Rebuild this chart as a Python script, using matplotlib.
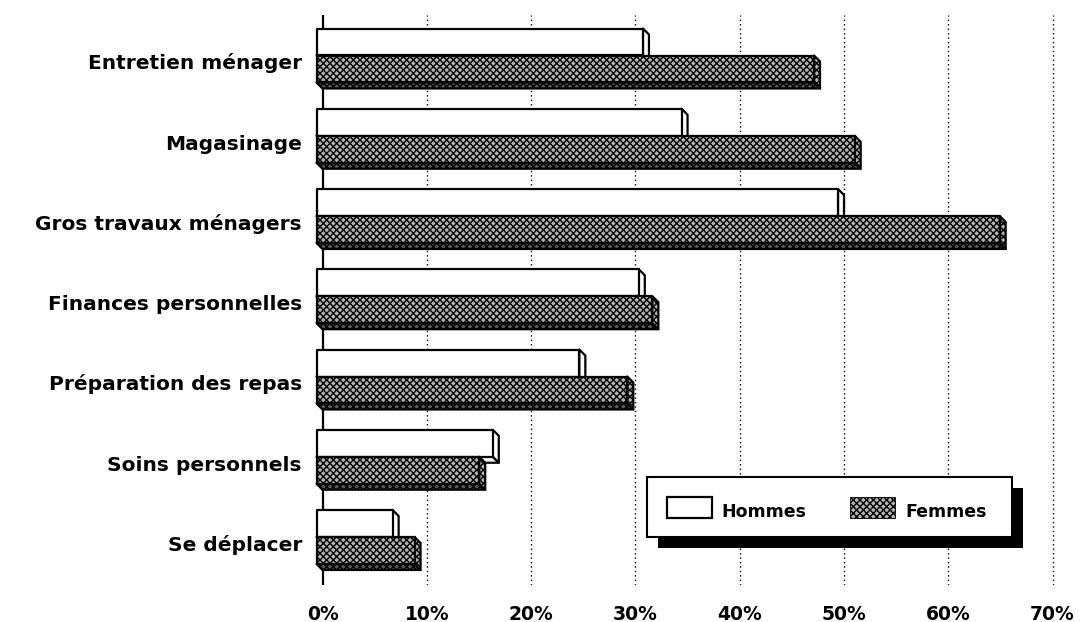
import matplotlib
matplotlib.use("Agg")
import matplotlib.pyplot as plt
from matplotlib.patches import Polygon, Rectangle

# Survey data (% of respondents)
categories = ["Entretien ménager", "Magasinage", "Gros travaux ménagers",
              "Finances personnelles", "Préparation des repas",
              "Soins personnels", "Se déplacer"]
hommes = [31.3, 35.0, 50.0, 30.9, 25.2, 16.9, 7.3]
femmes = [47.7, 51.6, 65.5, 32.2, 29.8, 15.6, 9.4]
series_names = ["Hommes", "Femmes"]
xticks = [0, 10, 20, 30, 40, 50, 60, 70]
xtick_labels = ["0%", "10%", "20%", "30%", "40%", "50%", "60%", "70%"]

plt.rcParams["font.family"] = ["DejaVu Sans"]
plt.rcParams["font.weight"] = "bold"
plt.rcParams["hatch.linewidth"] = 1.0
plt.rcParams["hatch.color"] = "black"

W, H = 1081, 622
fig = plt.figure(figsize=(W / 100, H / 100), dpi=100)

# layout in pixels: 0% sits at x=322.5, 10 points = 104.3 px
PX_X0, PX_PER_PCT = 322.5, 10.43
PX_Y0, PX_PER_CAT = 55.5, 80.25
XLIM = (-1.2, 71)
YLIM = (6.6, -0.5)
left = PX_X0 + XLIM[0] * PX_PER_PCT
right = PX_X0 + XLIM[1] * PX_PER_PCT
top = PX_Y0 + YLIM[1] * PX_PER_CAT
bottom = PX_Y0 + YLIM[0] * PX_PER_CAT
ax = fig.add_axes([left / W, 1 - bottom / H, (right - left) / W, (bottom - top) / H])
ax.set_xlim(*XLIM)
ax.set_ylim(*YLIM)
for s in ax.spines.values():
    s.set_visible(False)

# 3D depth of the bars (6 px right and down)
DX = 6 / PX_PER_PCT
DY = 6 / PX_PER_CAT
BAR_H = 0.336
LW = 1.6
FEM_FACE = "#b4b4b4"
FEM_BOTTOM = "#5a5a5a"
FEM_HATCH = "xxxxx"


def draw_box(y_top, value, face, bottom_face, hatch, z):
    xl, xr = -DX, value - DX
    yt, yb = y_top, y_top + BAR_H
    bot = Polygon([(xl, yb), (xr, yb), (value, yb + DY), (0, yb + DY)],
                  closed=True, facecolor=bottom_face, edgecolor="black",
                  lw=LW, hatch=hatch, joinstyle="round", zorder=z)
    side = Polygon([(xr, yt), (value, yt + DY), (value, yb + DY), (xr, yb)],
                   closed=True, facecolor=face, edgecolor="black",
                   lw=LW, hatch=hatch, joinstyle="round", zorder=z)
    front = Rectangle((xl, yt), xr - xl, BAR_H, facecolor=face,
                      edgecolor="black", lw=LW, hatch=hatch,
                      joinstyle="round", zorder=z)
    for p in (bot, side, front):
        ax.add_patch(p)


# dotted grid and the 0% axis line
for x in xticks[1:]:
    ax.plot([x, x], list(YLIM), color="black", lw=1.0,
            linestyle=(0, (1, 2.2)), zorder=1)
ax.plot([0, 0], list(YLIM), color="black", lw=1.6, zorder=2)

for i, (h, f) in enumerate(zip(hommes, femmes)):
    draw_box(i - BAR_H, h, "white", "white", None, 3 + 2 * i)
    draw_box(i, f, FEM_FACE, FEM_BOTTOM, FEM_HATCH, 4 + 2 * i)
    ax.text(-1.97, i + 0.172, categories[i], ha="right", va="baseline",
            fontsize=14.5, fontweight="bold")

ax.set_yticks([])
ax.set_xticks(xticks)
ax.set_xticklabels(xtick_labels, fontsize=13.5, fontweight="bold")
ax.tick_params(axis="x", length=0, pad=14)

# legend box with drop shadow
lax = fig.add_axes([0, 0, 1, 1])
lax.set_xlim(0, W)
lax.set_ylim(H, 0)
lax.axis("off")
lax.set_facecolor("none")
lax.add_patch(Rectangle((657.5, 487.5), 365, 60, facecolor="black", lw=0))
lax.add_patch(Rectangle((646.7, 476.7), 365, 60.5, facecolor="white",
                        edgecolor="black", lw=1.5))
lax.add_patch(Rectangle((666.7, 497.3), 45, 21, facecolor="white",
                        edgecolor="black", lw=1.6))
lax.add_patch(Rectangle((850, 497.3), 45, 21, facecolor=FEM_FACE,
                        edgecolor="black", lw=0.6, hatch=FEM_HATCH))
lax.text(721.7, 517, series_names[0], ha="left", va="baseline",
         fontsize=12.5, fontweight="bold")
lax.text(905, 517, series_names[1], ha="left", va="baseline",
         fontsize=12.5, fontweight="bold")

fig.savefig("out.png", dpi=100, facecolor="white")
